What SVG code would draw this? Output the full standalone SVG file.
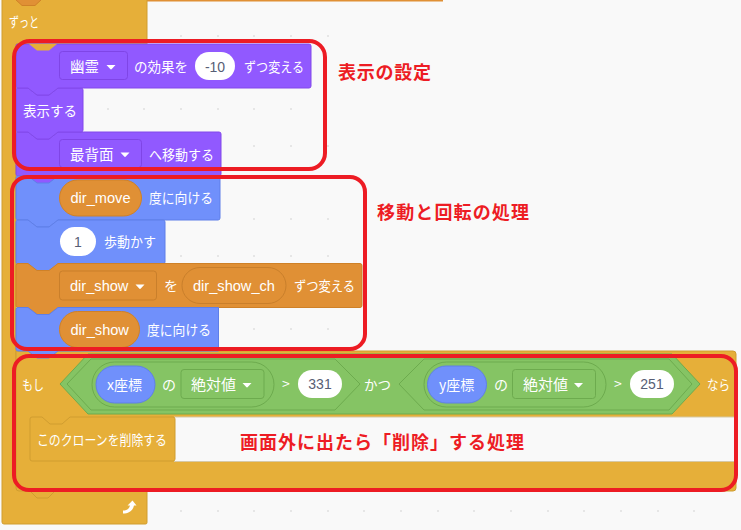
<svg xmlns="http://www.w3.org/2000/svg" width="741" height="530" viewBox="0 0 741 530">
<style>
.t{font-family:"Noto Sans CJK JP","Liberation Sans",sans-serif;font-size:14px;fill:#fff}
.l{font-family:"Liberation Sans",sans-serif;font-size:14.6px;fill:#fff}
.n{font-family:"Liberation Sans",sans-serif;font-size:14px;fill:#575e75;text-anchor:middle}
.r{font-family:"Noto Sans CJK JP",sans-serif;font-size:18px;font-weight:700;fill:#ed1c24}
.box{fill:none;stroke:#ed1c24;stroke-width:4}
.pu{fill:#9159ff;stroke:#8249ea}
.bl{fill:#7090fb;stroke:#5f7fe8}
.or{fill:#e09035;stroke:#cf8128}
.ye{fill:#e6af39;stroke:#d09d30}
.gr{fill:#85c464;stroke:#6dab4e}
.gi{fill:none;stroke:#6dab4e}
.ov{fill:#fff;stroke:none}
.ar{fill:#fff}
</style>
<defs>
<path id="arrow" d="M0 0h9l-3.500 3.800a1.300 1.300 0 0 1-2 0z"/>
</defs>
<rect width="741" height="530" fill="#f9f9f9"/>
<g fill="#e6e6e6">
<path id="dots" d="M180 35h2v2h-2zM217 35h2v2h-2zM253 35h2v2h-2zM290 35h2v2h-2zM327 35h2v2h-2zM107 108h2v2h-2zM143 108h2v2h-2zM180 108h2v2h-2zM217 108h2v2h-2zM253 108h2v2h-2zM290 108h2v2h-2zM253 145h2v2h-2zM290 145h2v2h-2zM327 145h2v2h-2zM253 218h2v2h-2zM290 218h2v2h-2zM327 218h2v2h-2zM180 255h2v2h-2zM217 255h2v2h-2zM253 255h2v2h-2zM290 255h2v2h-2zM327 255h2v2h-2zM253 328h2v2h-2zM290 328h2v2h-2zM327 328h2v2h-2zM180 437h2v2h-2zM217 437h2v2h-2zM547 437h2v2h-2zM583 437h2v2h-2zM620 437h2v2h-2zM657 437h2v2h-2zM693 437h2v2h-2zM180 510h2v2h-2zM217 510h2v2h-2zM253 510h2v2h-2zM290 510h2v2h-2zM327 510h2v2h-2zM363 510h2v2h-2zM400 510h2v2h-2zM437 510h2v2h-2zM473 510h2v2h-2zM510 510h2v2h-2zM547 510h2v2h-2zM583 510h2v2h-2zM620 510h2v2h-2zM657 510h2v2h-2zM693 510h2v2h-2z"/>
</g>
<rect x="145" y="0" width="298" height="1.500" fill="#e09035"/>

<g id="forever">
<path class="ye" d="M4 -3H145.500a1.500 1.500 0 0 1 1.500 1.500V44H40L16 44V480H145.500a1.500 1.500 0 0 1 1.500 1.500V522.500a1.500 1.500 0 0 1-1.500 1.500H4a2 2 0 0 1-2-2V-1z"/>
<path class="or" d="M15 -1H42L35 5.500H22z"/>
<text class="t" x="9" y="27" textLength="30" lengthAdjust="spacingAndGlyphs">ずっと</text>
<path d="M123 510.500c3 0 6-1 7-5l-2.500 0 5-5 4 5h-2.500c-1 5-5 8-11 8z" fill="#fff"/>
</g>

<g id="if-block">
<path class="ye" d="M16 351H733a3 3 0 0 1 3 3V488a3 3 0 0 1-3 3H55L48 498H37L30 491H19a3 3 0 0 1-3-3z"/>
<rect x="174" y="417" width="562" height="44" fill="#f9f9f9"/>
<path d="M174 461.500H736M174 417H736" stroke="#d6c9a6" fill="none"/>
<text class="t" x="22" y="390" textLength="22" lengthAdjust="spacingAndGlyphs">もし</text>
<text class="t" x="707" y="390" textLength="23" lengthAdjust="spacingAndGlyphs">なら</text>
</g>

<g id="condition">
<path class="gr" d="M60 384L88 354H672L700 384L672 414H88z"/>
<path class="gi" d="M67 384L91 359H335L360 384L335 410H91z"/>
<path class="gi" d="M399 384L424 359H669L692 384L669 410H424z"/>
<rect class="gi" x="92" y="362" width="182" height="45" rx="22.500"/>
<rect class="gi" x="424" y="362" width="182" height="45" rx="22.500"/>
<rect class="bl" x="96" y="366" width="59" height="37" rx="18.500"/>
<rect class="bl" x="427.500" y="366" width="59" height="37" rx="18.500"/>
<text class="t" x="107" y="390">x座標</text>
<text class="t" x="439" y="390">y座標</text>
<text class="t" x="162" y="390">の</text>
<text class="t" x="494" y="390">の</text>
<text class="t" x="364" y="390" textLength="27" lengthAdjust="spacingAndGlyphs">かつ</text>
<rect class="gi" x="181" y="369.500" width="83" height="29" rx="3"/>
<rect class="gi" x="512.500" y="369.500" width="83" height="29" rx="3"/>
<text class="t" x="191" y="390" style="font-size:15px">絶対値</text>
<text class="t" x="523" y="390" style="font-size:15px">絶対値</text>
<use href="#arrow" x="242.500" y="383" class="ar"/>
<use href="#arrow" x="574" y="383" class="ar"/>
<text class="t" x="282" y="389">&gt;</text>
<text class="t" x="614" y="389">&gt;</text>
<rect class="ov" x="298" y="370" width="44" height="28" rx="14"/>
<rect class="ov" x="630" y="370" width="44" height="28" rx="14"/>
<text class="n" x="320" y="389">331</text>
<text class="n" x="652" y="389">251</text>
</g>

<g id="delete-clone">
<path class="ye" d="M32 417H42L50 424H62L70 417H173a2 2 0 0 1 2 2V459a2 2 0 0 1-2 2H32a2 2 0 0 1-2-2V419a2 2 0 0 1 2-2z"/>
<text class="t" x="37" y="445" textLength="130" lengthAdjust="spacingAndGlyphs">このクローンを削除する</text>
</g>

<g id="look-3">
<path class="pu" d="M18 132H28L37 139H49L58 132H219a2 2 0 0 1 2 2V174a2 2 0 0 1-2 2H58L49 183H37L28 176H18a2 2 0 0 1-2-2V134a2 2 0 0 1 2-2z"/>
<rect x="59.500" y="139.500" width="82" height="28" rx="3" fill="none" stroke="#7f45e6"/>
<text class="t" x="70" y="160" style="font-size:14.500px">最背面</text>
<use href="#arrow" x="120.500" y="152.500" class="ar"/>
<text class="t" x="149" y="160" textLength="65" lengthAdjust="spacingAndGlyphs">へ移動する</text>
</g>

<g id="look-2">
<path class="pu" d="M18 88H28L37 95H49L58 88H81a2 2 0 0 1 2 2V130a2 2 0 0 1-2 2H58L49 139H37L28 132H18a2 2 0 0 1-2-2V90a2 2 0 0 1 2-2z"/>
<text class="t" x="23" y="116" textLength="54" lengthAdjust="spacingAndGlyphs">表示する</text>
</g>

<g id="look-1">
<path class="pu" d="M18 44H309a2 2 0 0 1 2 2V86a2 2 0 0 1-2 2H58L49 95H37L28 88H18a2 2 0 0 1-2-2V46a2 2 0 0 1 2-2z"/>
<path class="ye" style="stroke:none" d="M29 44H57L49 50.500H37z"/>
<rect x="59.500" y="51.500" width="68" height="28" rx="3" fill="none" stroke="#7f45e6"/>
<text class="t" x="70" y="72" style="font-size:14.500px">幽霊</text>
<use href="#arrow" x="106.500" y="65" class="ar"/>
<text class="t" x="134" y="72" textLength="54" lengthAdjust="spacingAndGlyphs">の効果を</text>
<rect class="ov" x="195" y="52" width="40" height="28" rx="14"/>
<text class="n" x="215" y="72">-10</text>
<text class="t" x="244" y="72" textLength="60" lengthAdjust="spacingAndGlyphs">ずつ変える</text>
</g>

<g id="motion-1">
<path class="pu" d="M28 174H58L49 183H37z" style="stroke:none"/>
<path class="bl" d="M18 176H28L37 183H49L58 176H218a2 2 0 0 1 2 2V218a2 2 0 0 1-2 2H58L49 227H37L28 220H18a2 2 0 0 1-2-2V178a2 2 0 0 1 2-2z"/>
<rect class="or" x="59.500" y="180" width="82" height="36" rx="18"/>
<text class="l" x="70.500" y="203">dir_move</text>
<text class="t" x="149" y="203" textLength="64" lengthAdjust="spacingAndGlyphs">度に向ける</text>
</g>

<g id="motion-2">
<path class="bl" d="M18 220H28L37 227H49L58 220H163a2 2 0 0 1 2 2V262a2 2 0 0 1-2 2H58L49 271H37L28 264H18a2 2 0 0 1-2-2V222a2 2 0 0 1 2-2z"/>
<rect class="ov" x="60" y="227" width="36" height="29" rx="14.500"/>
<text class="n" x="78" y="247">1</text>
<text class="t" x="104" y="247" textLength="52" lengthAdjust="spacingAndGlyphs">歩動かす</text>
</g>

<g id="variable">
<path class="or" d="M18 263.500H28L37 270.500H49L58 263.500H360a2 2 0 0 1 2 2V305.500a2 2 0 0 1-2 2H58L49 314.500H37L28 307.500H18a2 2 0 0 1-2-2V265.500a2 2 0 0 1 2-2z"/>
<rect x="59.500" y="271" width="97" height="29" rx="3" fill="none" stroke="#c97f2b"/>
<text class="l" x="70" y="291">dir_show</text>
<use href="#arrow" x="135.500" y="284.500" class="ar"/>
<text class="t" x="164" y="291">を</text>
<rect x="182" y="267.500" width="104" height="36" rx="18" fill="none" stroke="#c97f2b"/>
<text class="l" x="193" y="291">dir_show_ch</text>
<text class="t" x="294" y="291" textLength="61" lengthAdjust="spacingAndGlyphs">ずつ変える</text>
</g>

<g id="motion-3">
<path class="bl" d="M18 307.500H28L37 314.500H49L58 307.500H218.500V351H58L49 358H37L28 351H18a2 2 0 0 1-2-2V309.500a2 2 0 0 1 2-2z"/>
<rect class="or" x="59.500" y="311.500" width="80" height="36" rx="18"/>
<text class="l" x="70.500" y="335">dir_show</text>
<text class="t" x="147" y="335" textLength="64" lengthAdjust="spacingAndGlyphs">度に向ける</text>
</g>

<g id="annotations">
<rect class="box" x="14" y="41" width="311" height="128" rx="16"/>
<rect class="box" x="12" y="177" width="353" height="172" rx="15"/>
<rect class="box" x="14" y="356" width="722" height="134" rx="15"/>
<text class="r" x="338" y="79" textLength="93">表示の設定</text>
<text class="r" x="377" y="219" textLength="152">移動と回転の処理</text>
<text class="r" x="240" y="449" textLength="284">画面外に出たら「削除」する処理</text>
</g>
</svg>
